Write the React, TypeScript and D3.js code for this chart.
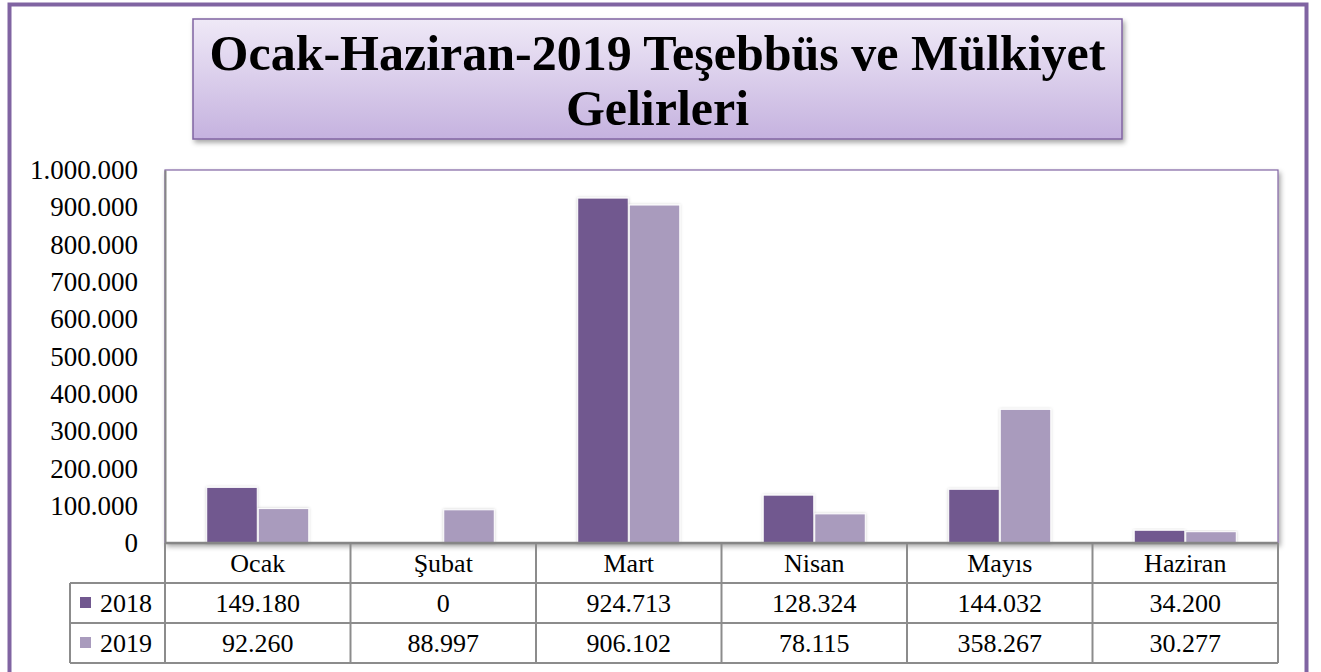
import { useRef, useEffect } from 'react';
import * as d3 from 'd3';

const months = ['Ocak', 'Şubat', 'Mart', 'Nisan', 'Mayıs', 'Haziran'];
const seriesNames = ['2018', '2019'];
const values2018 = [149180, 0, 924713, 128324, 144032, 34200];
const values2019 = [92260, 88997, 906102, 78115, 358267, 30277];
const seriesColors = ['#71588f', '#a99bbd'];
const yTicks = [0, 100000, 200000, 300000, 400000, 500000, 600000, 700000, 800000, 900000, 1000000];
const titleLines = ['Ocak-Haziran-2019 Teşebbüs ve Mülkiyet', 'Gelirleri'];

const W = 1321;
const H = 672;
const FONT = "'Liberation Serif', 'DejaVu Serif', serif";

const trLocale = d3.formatLocale({ decimal: ',', thousands: '.', grouping: [3], currency: ['', ''] });
const fmt = trLocale.format(',d');

export default function App() {
  const svgRef = useRef<SVGSVGElement>(null);

  useEffect(() => {
    if (!svgRef.current) return;
    const svg = d3.select(svgRef.current);
    svg.selectAll('*').remove();

    const series = [values2018, values2019];

    const plot = { left: 165, right: 1278, top: 170, bottom: 543 };
    const rowH = 40;
    const legendLeft = 70;

    const defs = svg.append('defs');
    const shadow = defs.append('filter').attr('id', 'shadow').attr('x', '-5%').attr('y', '-5%').attr('width', '115%').attr('height', '130%');
    shadow.append('feDropShadow').attr('dx', 2).attr('dy', 3).attr('stdDeviation', 2.5)
      .attr('flood-color', '#000').attr('flood-opacity', 0.35);
    const barShadow = defs.append('filter').attr('id', 'barShadow').attr('x', '-20%').attr('y', '-10%').attr('width', '140%').attr('height', '120%');
    barShadow.append('feDropShadow').attr('dx', 0).attr('dy', 0).attr('stdDeviation', 1.5)
      .attr('flood-color', '#000').attr('flood-opacity', 0.2);
    const grad = defs.append('linearGradient').attr('id', 'titleGrad').attr('x1', 0).attr('x2', 0).attr('y1', 0).attr('y2', 1);
    grad.append('stop').attr('offset', '0%').attr('stop-color', '#efe9f7');
    grad.append('stop').attr('offset', '100%').attr('stop-color', '#c5b2df');

    svg.append('rect').attr('width', W).attr('height', H).attr('fill', '#fff');

    // outer frame
    svg.append('rect').attr('x', 9.5).attr('y', 4.5).attr('width', 1297).attr('height', 700)
      .attr('fill', 'none').attr('stroke', '#8064a2').attr('stroke-width', 4);

    // title box
    svg.append('rect').attr('x', 193).attr('y', 19).attr('width', 929).attr('height', 120)
      .attr('fill', 'url(#titleGrad)').attr('stroke', '#8064a2').attr('stroke-width', 1.5)
      .attr('filter', 'url(#shadow)');
    svg.append('text').attr('x', 657.5).attr('y', 70).attr('text-anchor', 'middle')
      .style('font-family', FONT).attr('font-weight', 'bold').attr('font-size', 50).attr('fill', '#000')
      .text(titleLines[0]);
    svg.append('text').attr('x', 657.5).attr('y', 125).attr('text-anchor', 'middle')
      .style('font-family', FONT).attr('font-weight', 'bold').attr('font-size', 50).attr('fill', '#000')
      .text(titleLines[1]);

    // plot area
    svg.append('rect').attr('x', plot.left).attr('y', plot.top)
      .attr('width', plot.right - plot.left).attr('height', plot.bottom - plot.top)
      .attr('fill', '#fff').attr('stroke', '#8064a2').attr('stroke-width', 1.2)
      .attr('filter', 'url(#shadow)');

    const x = d3.scaleBand<string>().domain(months).range([plot.left, plot.right]).padding(0);
    const xs = d3.scaleBand<string>().domain(seriesNames).range([0, x.bandwidth()]).paddingInner(0).paddingOuter(0.8);
    const y = d3.scaleLinear().domain([0, 1000000]).range([plot.bottom, plot.top]);

    seriesNames.forEach((s, si) => {
      svg.append('g').selectAll('rect').data(series[si]).join('rect')
        .attr('x', (_d, i) => (x(months[i]) ?? 0) + (xs(s) ?? 0) + 0.5)
        .attr('y', (d) => y(d))
        .attr('width', xs.bandwidth() - 1)
        .attr('height', (d) => Math.max(0, y(0) - y(d)))
        .attr('fill', seriesColors[si])
        .attr('stroke', '#fff').attr('stroke-width', 1)
        .attr('filter', 'url(#barShadow)')
        .style('display', (d) => (d > 0 ? null : 'none'));
    });

    // y axis
    const yAxis = svg.append('g').attr('transform', `translate(${plot.left},0)`)
      .call(d3.axisLeft(y).tickValues(yTicks).tickSize(0).tickPadding(27).tickFormat((d) => fmt(d as number)));
    yAxis.select('.domain').attr('stroke', '#868686').attr('stroke-width', 2);
    yAxis.selectAll('text').style('font-family', FONT).attr('font-size', 27).attr('fill', '#000');

    // data table
    const tbl = svg.append('g');
    const lineColor = '#8c8c8c';
    const rowTop = (r: number) => plot.bottom + r * rowH;
    [1, 2, 3].forEach((r) => {
      tbl.append('line').attr('x1', legendLeft).attr('x2', plot.right).attr('y1', rowTop(r)).attr('y2', rowTop(r))
        .attr('stroke', lineColor).attr('stroke-width', 2);
    });
    tbl.append('line').attr('x1', legendLeft).attr('x2', legendLeft).attr('y1', rowTop(1)).attr('y2', rowTop(3))
      .attr('stroke', lineColor).attr('stroke-width', 2);
    tbl.selectAll('.vline').data([...months.map((m) => x(m) ?? 0), plot.right]).join('line')
      .attr('class', 'vline')
      .attr('x1', (d) => d).attr('x2', (d) => d)
      .attr('y1', plot.bottom).attr('y2', rowTop(3))
      .attr('stroke', lineColor).attr('stroke-width', 2);
    tbl.selectAll('.cat').data(months).join('text')
      .attr('class', 'cat')
      .attr('x', (d) => (x(d) ?? 0) + x.bandwidth() / 2)
      .attr('y', rowTop(1) - 11)
      .attr('text-anchor', 'middle').style('font-family', FONT).attr('font-size', 26).attr('fill', '#000')
      .text((d) => d);
    seriesNames.forEach((s, si) => {
      const base = rowTop(si + 2) - 11;
      tbl.append('rect').attr('x', 80).attr('y', rowTop(si + 1) + 14).attr('width', 11).attr('height', 11)
        .attr('fill', seriesColors[si]);
      tbl.append('text').attr('x', 100).attr('y', base)
        .style('font-family', FONT).attr('font-size', 26).attr('fill', '#000').text(s);
      tbl.selectAll(`.v${si}`).data(series[si]).join('text')
        .attr('class', `v${si}`)
        .attr('x', (_d, i) => (x(months[i]) ?? 0) + x.bandwidth() / 2)
        .attr('y', base)
        .attr('text-anchor', 'middle').style('font-family', FONT).attr('font-size', 26).attr('fill', '#000')
        .text((d) => fmt(d));
    });

    svg.append('line').attr('x1', plot.left).attr('x2', plot.right).attr('y1', plot.bottom).attr('y2', plot.bottom)
      .attr('stroke', '#868686').attr('stroke-width', 2.5);
  }, []);

  return (
    <svg ref={svgRef} width={W} height={H} style={{ position: 'absolute', left: 0, top: 0, display: 'block' }} />
  );
}
